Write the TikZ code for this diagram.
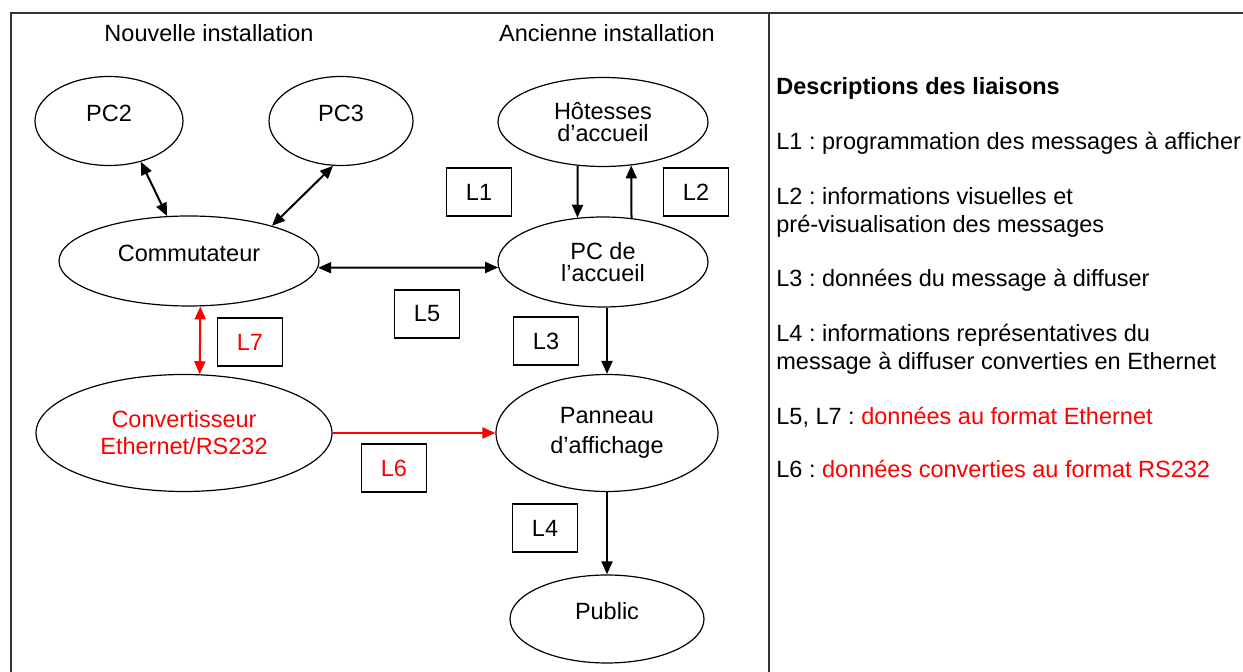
\documentclass[tikz,border=0pt]{standalone}
\usepackage{fontspec}
\setmainfont{Liberation Sans}
\usepackage{tikz}
\usetikzlibrary{shapes,arrows,arrows.meta}
\frenchspacing
\tikzstyle{poste}=[draw, ellipse, line width=0.6pt, inner sep=0pt,
    align=center]
\tikzstyle{seul}=[text depth=8pt]
\tikzstyle{liaison}=[draw, line width=0.7pt, minimum width=32.5pt,
    minimum height=24pt, inner sep=0pt]
\tikzstyle{lien}=[line width=1pt, >={Triangle[length=6.5pt,width=5.5pt]}]
\tikzstyle{legende}=[anchor=base west, inner sep=0pt]

\begin{document}
\begin{tikzpicture}[x=0.5pt, y=-0.5pt,
    every node/.style={font=\fontsize{11.75}{13.5}\selectfont}]
\useasboundingbox (0,0) rectangle (1243,672);
% cadre
\draw [line width=0.9pt, black!80] (11,690) -- (11,13) -- (1260,13);
\draw [line width=0.9pt, black!80] (769,13) -- (769,690);
% titres
\path (209,42) node [anchor=base, inner sep=0pt] (tN) {Nouvelle installation};
\path (607,42) node [anchor=base, inner sep=0pt] (tA) {Ancienne installation};
% PC2 et PC3
\path (109,121) node [poste, seul, minimum width=74pt, minimum height=44.5pt] (PC2) {PC2};
\path (341,121) node [poste, seul, minimum width=72pt, minimum height=44.5pt] (PC3) {PC3};
% Commutateur
\path (189,261) node [poste, seul, minimum width=130pt, minimum height=45pt] (Com) {Commutateur};
% Hotesses
\path (603,122) node [poste, minimum width=105pt, minimum height=44.5pt] (Hot) {H\^otesses\\[-2.5pt]d'accueil};
% PC de l'accueil
\path (603,262) node [poste, minimum width=105pt, minimum height=45pt] (PC) {PC de\\[-2.5pt]l'accueil};
% Convertisseur
\path (184,433) node [poste, text=red, minimum width=148pt, minimum height=58.5pt] (Conv) {Convertisseur\\Ethernet/RS232};
% Panneau
\path (607,433) node [poste, minimum width=111pt, minimum height=58.5pt] (Pan) {Panneau\\[1.5pt]d'affichage};
% Public
\path (607,619) node [poste, seul, minimum width=97pt, minimum height=44pt] (Pub) {Public};
% liaisons
\path (479,192) node [liaison] (L1) {L1};
\path (696,192) node [liaison] (L2) {L2};
\path (427,314) node [liaison] (L5) {L5};
\path (546,341) node [liaison] (L3) {L3};
\path (250,342) node [liaison, text=red] (L7) {L7};
\path (394,468) node [liaison, text=red] (L6) {L6};
\path (545,528) node [liaison] (L4) {L4};
% fleches
\draw [lien, <->] (PC2.-52) -- (Com.116);
\draw [lien, <->] (PC3.-100) -- (Com.23);
\draw [lien, <->] (Com.-3) -- (PC.183);
\draw [lien, ->] (Hot.-120) -- (PC.120);
\draw [lien, ->] (PC.57) -- (Hot.-57);
\draw [lien, ->] (PC.south -| Pan.north) -- (Pan.north);
\draw [lien, ->] (Pan.south) -- (Pub.north);
\draw [lien, red, <->] (Com.-76) -- (Conv.75);
\draw [lien, red, ->] (Conv.east) -- (Pan.west);
% descriptions
\path (776,95) node [legende] (d0) {\bfseries Descriptions des liaisons};
\path (776,150) node [legende] (d1) {L1 : programmation des messages \`a afficher};
\path (776,205) node [legende] (d2) {L2 : informations visuelles et};
\path (776,233) node [legende] (d2b) {pr\'e-visualisation des messages};
\path (776,287) node [legende] (d3) {L3 : donn\'ees du message \`a diffuser};
\path (776,342) node [legende] (d4) {L4 : informations repr\'esentatives du};
\path (776,370) node [legende] (d4b) {message \`a diffuser converties en Ethernet};
\path (776,425) node [legende] (d5) {L5, L7 : \textcolor{red}{donn\'ees au format Ethernet}};
\path (776,478) node [legende] (d6) {L6 : \textcolor{red}{donn\'ees converties au format RS232}};
\end{tikzpicture}
\end{document}
